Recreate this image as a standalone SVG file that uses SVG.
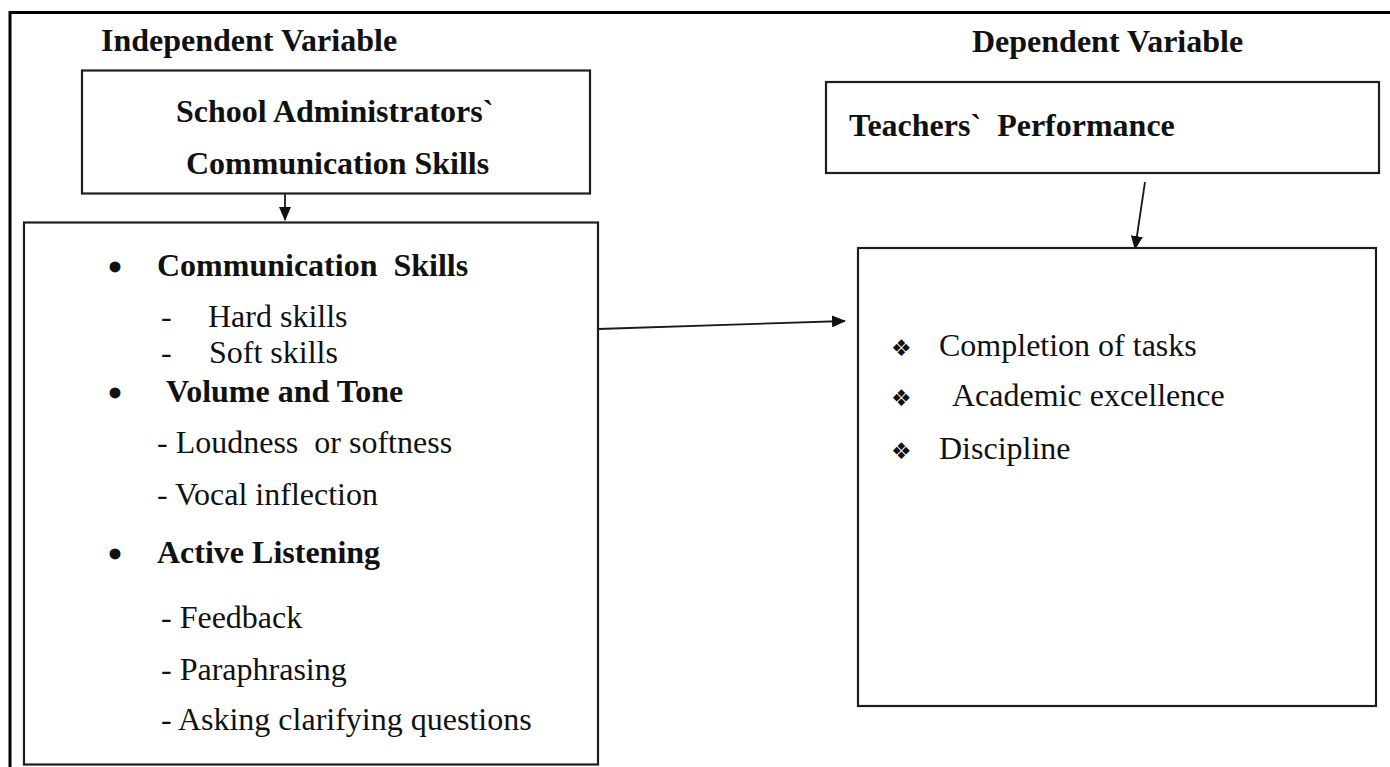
<svg xmlns="http://www.w3.org/2000/svg" width="1390" height="767" viewBox="0 0 1390 767">
  <style>
    text { white-space: pre; }
    .box { fill: #ffffff; stroke: #1e1e1e; stroke-width: 2.2; }
    .frame { fill: none; stroke: #000000; stroke-width: 3; }
    .edge { fill: none; stroke: #1a1a1a; stroke-width: 1.8; }
    .hd { font-family: "Liberation Serif", "Times New Roman", serif; font-weight: bold; font-size: 32px; fill: #111111; }
    .tx { font-family: "Liberation Serif", "Times New Roman", serif; font-size: 32px; fill: #111111; }
    .dot { font-family: "Liberation Serif", "Times New Roman", serif; font-weight: bold; font-size: 40px; fill: #111111; }
    .dia { font-family: "DejaVu Sans", "Noto Sans", sans-serif; font-size: 23px; fill: #111111; }
  </style>
  <defs>
    <marker id="arrow" viewBox="0 0 14 12" refX="13" refY="6" markerWidth="14" markerHeight="12" markerUnits="userSpaceOnUse" orient="auto">
      <path d="M0,0 L14,6 L0,12 Z" fill="#111111"/>
    </marker>
  </defs>
  <rect width="1390" height="767" fill="#ffffff"/>

  <!-- page frame (top and left edges only) -->
  <path class="frame" d="M10,767 L10,12.5 L1390,12.5"/>

  <!-- section headings -->
  <text class="hd" x="101" y="51">Independent Variable</text>
  <text class="hd" x="972" y="52">Dependent Variable</text>

  <!-- connectors -->
  <g id="connectors">
    <line class="edge" x1="285" y1="194" x2="285" y2="220" marker-end="url(#arrow)"/>
    <line class="edge" x1="598" y1="329" x2="845" y2="321" marker-end="url(#arrow)"/>
    <line class="edge" x1="1145" y1="182" x2="1135" y2="249" marker-end="url(#arrow)"/>
  </g>

  <g id="admin-skills">
    <rect class="box" x="82" y="70.5" width="508" height="123"/>
    <text class="hd" x="176" y="122">School Administrators`</text>
    <text class="hd" x="186" y="174">Communication Skills</text>
  </g>

  <g id="skill-list">
    <rect class="box" x="24" y="222.5" width="574" height="542"/>
    <text class="dot" x="108" y="281">•</text>
    <text class="hd" x="157" y="276">Communication  Skills</text>
    <text class="tx" x="161" y="327">-</text>
    <text class="tx" x="208" y="327">Hard skills</text>
    <text class="tx" x="161" y="363">-</text>
    <text class="tx" x="209" y="363">Soft skills</text>
    <text class="dot" x="108" y="407">•</text>
    <text class="hd" x="166" y="402">Volume and Tone</text>
    <text class="tx" x="157" y="453">- Loudness  or softness</text>
    <text class="tx" x="157" y="505">- Vocal inflection</text>
    <text class="dot" x="108" y="568">•</text>
    <text class="hd" x="157" y="563">Active Listening</text>
    <text class="tx" x="161" y="628">- Feedback</text>
    <text class="tx" x="161" y="680">- Paraphrasing</text>
    <text class="tx" x="161" y="730">- Asking clarifying questions</text>
  </g>

  <g id="teacher-performance">
    <rect class="box" x="826" y="82" width="553" height="91"/>
    <text class="hd" x="849" y="136">Teachers`  Performance</text>
  </g>

  <g id="performance-list">
    <rect class="box" x="858" y="248" width="518" height="458"/>
    <text class="dia" x="891" y="356">❖</text>
    <text class="tx" x="939" y="356">Completion of tasks</text>
    <text class="dia" x="891" y="406">❖</text>
    <text class="tx" x="952" y="406">Academic excellence</text>
    <text class="dia" x="891" y="459">❖</text>
    <text class="tx" x="939" y="459">Discipline</text>
  </g>
</svg>
